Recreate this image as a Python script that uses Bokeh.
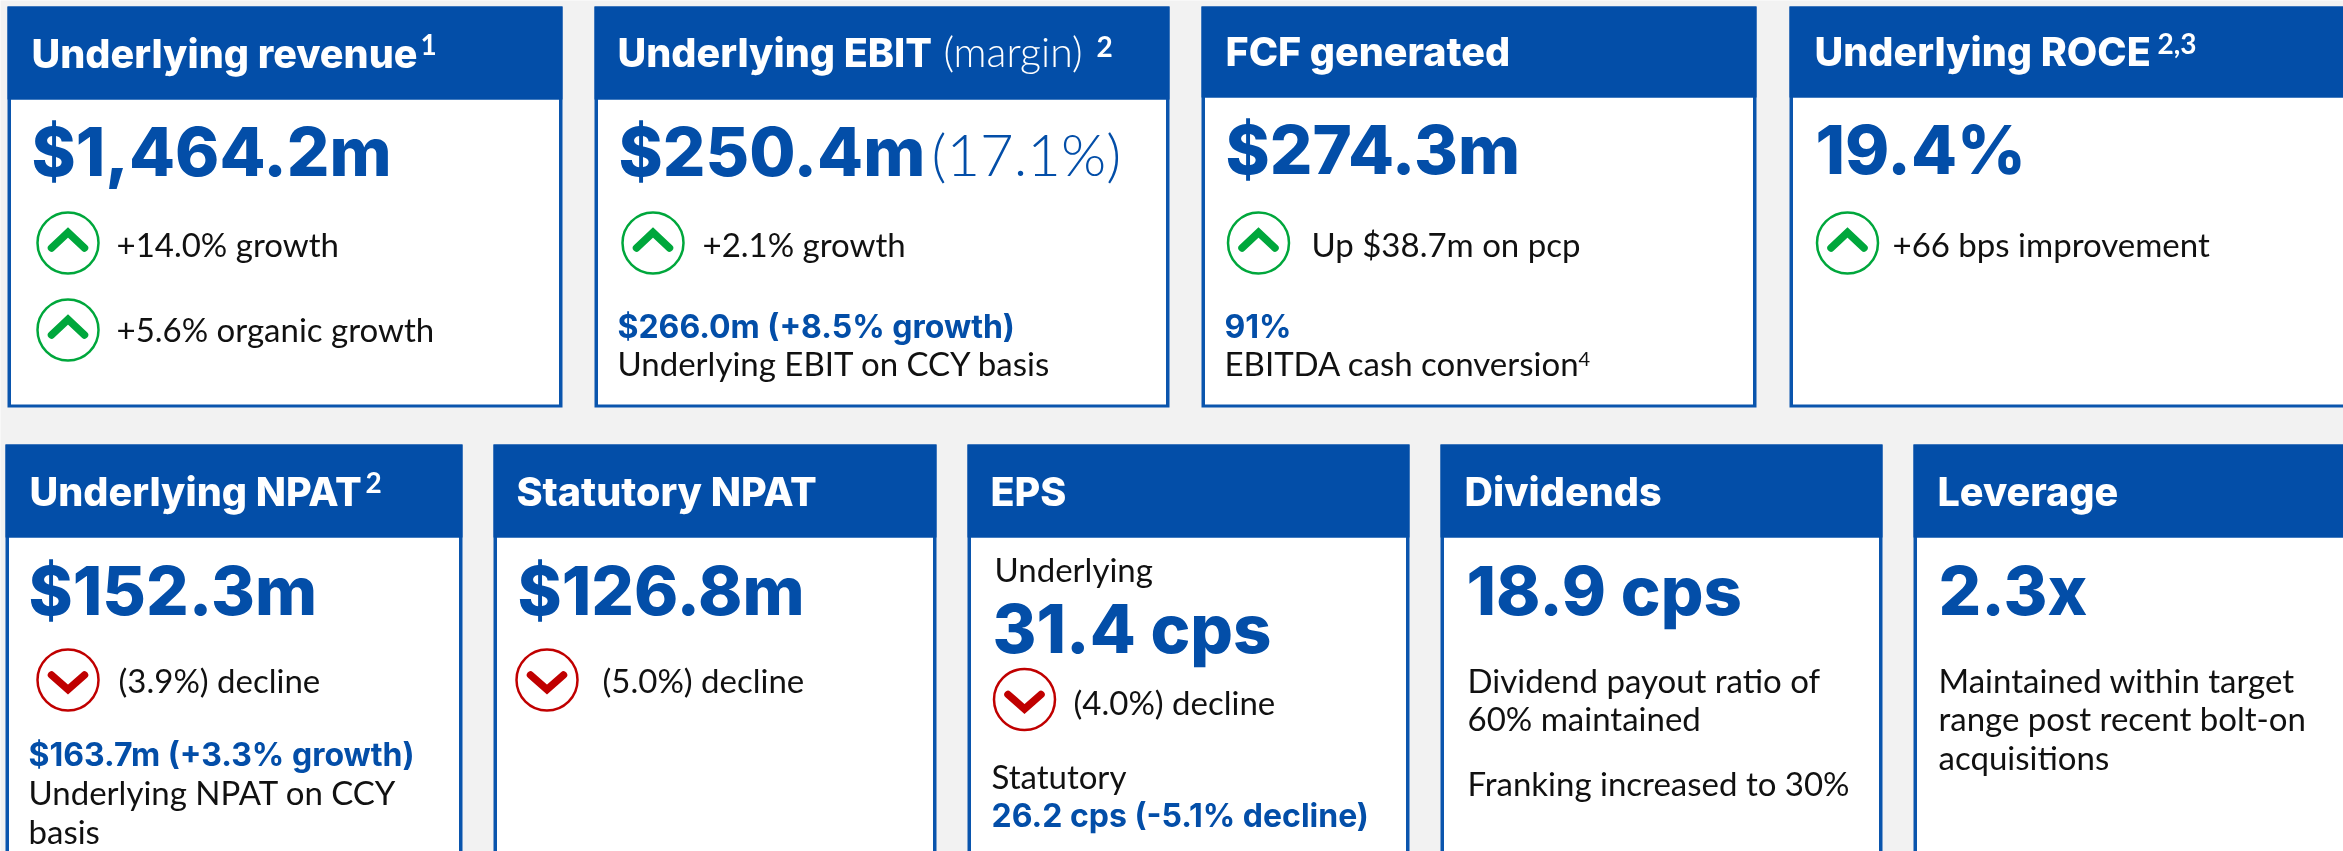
from bokeh.plotting import figure
from bokeh.models import ColumnDataSource
from bokeh.core.properties import value
from bokeh.embed import file_html
from bokeh.resources import INLINE

# ---- content ----
title_labels = ["Underlying revenue", "Underlying EBIT", "FCF generated", "Underlying ROCE",
                "Underlying NPAT", "Statutory NPAT", "EPS", "Dividends", "Leverage"]
value_labels = ["$1,464.2m", "$250.4m", "$274.3m", "19.4%",
                "$152.3m", "$126.8m", "31.4 cps", "18.9 cps", "2.3x"]
note_labels = ["+14.0% growth", "+5.6% organic growth", "+2.1% growth", "Up $38.7m on pcp",
               "+66 bps improvement", "(3.9%) decline", "(5.0%) decline", "(4.0%) decline"]
body_labels = ["Underlying EBIT on CCY basis", "EBITDA cash conversion", "Underlying NPAT on CCY", "basis",
               "Underlying", "Statutory", "Dividend payout ratio of", "60% maintained",
               "Franking increased to 30%", "Maintained within target", "range post recent bolt-on", "acquisitions"]
bold_body_labels = ["$266.0m (+8.5% growth)", "91%", "$163.7m (+3.3% growth)", "26.2 cps (-5.1% decline)"]
title_extra = ["(margin)"]
value_extra = ["(17.1%)"]
sup_bold = ["2", "2", "1", "2,3"]
sup_small = ["4"]

# ---- layout (page pixels) ----
W, H = 2343, 851
card_left = [7, 594, 1201, 1789, 5, 493, 967, 1440, 1913]
card_right = [562, 1169, 1756, 2393, 462, 936, 1409, 1882, 2393]
card_top = [6, 6, 6, 6, 444, 444, 444, 444, 444]
card_head = [99, 99, 97, 97, 537, 537, 537, 537, 537]
card_bottom = [407, 407, 407, 407, 901, 901, 901, 901, 901]
title_x = [31, 617, 1225, 1814, 29, 516, 990, 1464, 1937]
title_y = [69, 68, 67, 67, 507, 507, 507, 507, 507]
value_x = [31, 618, 1225, 1815, 28, 517, 992, 1466, 1938]
value_y = [177, 177, 175, 175, 616, 616, 654, 616, 616]
note_x = [116, 116, 702, 1311, 1892, 118, 602, 1073]
note_y = [256, 341, 256, 256, 256, 692, 692, 714]
body_x = [617, 1224, 28, 28, 994, 991, 1467, 1467, 1467, 1938, 1938, 1938]
body_y = [375, 375, 804, 843, 581, 788, 692, 730, 795, 692, 730, 769]
bold_x = [617, 1224, 28, 991]
bold_y = [338, 338, 766, 827]
up_x = [67.5, 67.5, 652.5, 1258, 1847]
up_y = [242.5, 329.5, 242.5, 242.5, 242.5]
down_x = [67.5, 546.5, 1024]
down_y = [679.5, 679.5, 699]

BLUE = "#034ea8"
EDGE = "#0a55ad"
GREEN = "#00a73c"
RED = "#c00000"
BG = "#f2f2f2"

p = figure(x_range=(0, W), y_range=(H, 0), width=W, height=H, output_backend="svg",
           toolbar_location=None, min_border=0, background_fill_color=BG, border_fill_color=BG,
           outline_line_color=None)
p.styles = {"position": "fixed", "left": "0px", "top": "0px"}
p.axis.visible = False
p.grid.visible = False

bx, by = 3.5, 3
p.quad(left=card_left, right=card_right, top=card_top, bottom=card_bottom, fill_color=EDGE, line_color=None)
p.quad(left=[v + bx for v in card_left], right=[v - bx for v in card_right], top=card_head,
       bottom=[v - by for v in card_bottom], fill_color="white", line_color=None)
p.quad(left=card_left, right=card_right, top=card_top, bottom=card_head, fill_color=BLUE, line_color=None)

SHIFT = 0.39


def texts(xs, ys, labels, color, size, family="Lato", style="normal"):
    src = ColumnDataSource(dict(x=xs, y=[v - SHIFT * size for v in ys], text=labels))
    p.text("x", "y", "text", source=src, text_color=color, text_font=value(family),
           text_font_size=f"{size}px", text_font_style=style, text_baseline="alphabetic",
           text_align="left")


texts(title_x, title_y, title_labels, "white", 39.5, family="Inter ExtraBold")
texts(value_x, value_y, value_labels, BLUE, 67, family="Inter ExtraBold")
texts(note_x, note_y, note_labels, "#111111", 33)
texts(body_x, body_y, body_labels, "#111111", 33)
texts(bold_x, bold_y, bold_body_labels, BLUE, 32, family="Inter", style="bold")
texts([943], [67], title_extra, "white", 41, family="Lato Light")
texts([931], [176], value_extra, BLUE, 58, family="Lato Light")
texts([1096, 365, 420, 2157], [57, 493, 55, 54], sup_bold, "white", 28, style="bold")
texts([1578], [366], sup_small, "#111111", 20)

r = 30.5
p.circle(up_x, up_y, radius=r, fill_color="white", line_color=GREEN, line_width=2.5)
p.circle(down_x, down_y, radius=r, fill_color="white", line_color=RED, line_width=2.5)
p.multi_line([[x - 16.5, x, x + 16.5] for x in up_x], [[y + 5, y - 10.5, y + 5] for y in up_y],
             line_color=GREEN, line_width=7.5, line_cap="round", line_join="miter")
p.multi_line([[x - 16.5, x, x + 16.5] for x in down_x], [[y - 5, y + 9.5, y - 5] for y in down_y],
             line_color=RED, line_width=7.5, line_cap="round", line_join="miter")

open("out.html", "w").write(file_html(p, INLINE))
